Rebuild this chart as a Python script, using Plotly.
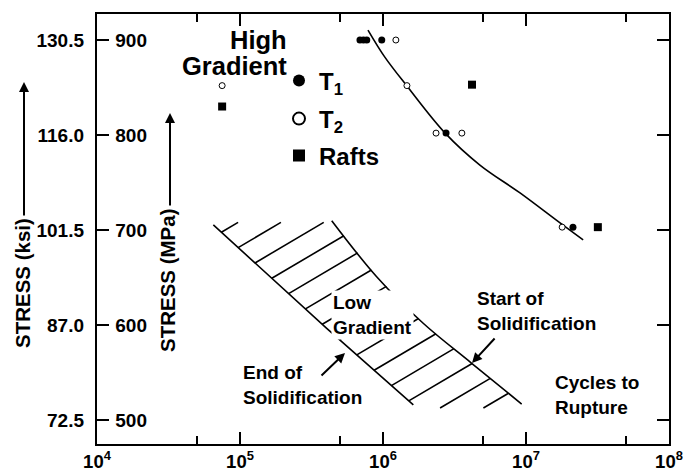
import numpy as np
import plotly.graph_objects as go

# ---------------- data ----------------
t1_cycles = [6.9e5, 7.3e5, 7.7e5, 9.8e5, 2.76e6, 2.13e7]
t1_stress = [900, 900, 900, 900, 802, 703]
t2_cycles = [7.5e4, 1.23e6, 1.47e6, 2.35e6, 3.56e6, 1.79e7]
t2_stress = [852, 900, 852, 802, 802, 703]
raft_cycles = [7.5e4, 4.19e6, 3.18e7]
raft_stress = [830, 853, 703]

hg_curve_cycles = [7.85e5, 1.03e6, 1.47e6, 2.72e6, 4.76e6, 9.08e6, 1.73e7, 2.51e7]
hg_curve_stress = [910.5, 882.0, 851.6, 802.0, 768.4, 739.0, 707.4, 689.5]

end_solid_cycles = [6.51e4, 4.04e5, 1.63e6]
end_solid_stress = [705.3, 596.5, 515.8]
start_solid_cycles = [4.38e5, 9.03e5, 1.91e6, 4.17e6, 9.33e6]
start_solid_stress = [709.8, 650.8, 601.8, 559.7, 516.8]

mpa_ticks = [500, 600, 700, 800, 900]
ksi_labels = ["72.5", "87.0", "101.5", "116.0", "130.5"]
x_major = [1e4, 1e5, 1e6, 1e7, 1e8]
x_labels = ["10<sup>4</sup>", "10<sup>5</sup>", "10<sup>6</sup>", "10<sup>7</sup>", "10<sup>8</sup>"]
x_minor = [5e4, 5e5, 5e6, 5e7]

# ---------------- layout geometry ----------------
W, H = 699, 472
ML, MR, MT, MB = 97, 30, 14, 28
PW, PH = W - ML - MR, H - MT - MB
Y_RANGE = [474.7, 927.4]
FONT = "Liberation Sans, Arial, Helvetica, sans-serif"


def px(x):
    return (x - ML) / PW


def py(y):
    return (H - MB - y) / PH


# ---------------- hatching of the low-gradient band ----------------
def pw(xq, xs, ys):
    xs = np.asarray(xs, float)
    ys = np.asarray(ys, float)
    o = np.argsort(xs)
    xs, ys = xs[o], ys[o]
    if xq < xs[0]:
        return ys[0] + (xq - xs[0]) * (ys[1] - ys[0]) / (xs[1] - xs[0])
    if xq > xs[-1]:
        return ys[-1] + (xq - xs[-1]) * (ys[-1] - ys[-2]) / (xs[-1] - xs[-2])
    return float(np.interp(xq, xs, ys))


uL, vL = np.log10(end_solid_cycles), np.array(end_solid_stress)
uR, vR = np.log10(start_solid_cycles), np.array(start_solid_stress)
HATCH_SLOPE = 88.8      # MPa per decade
HATCH_FIRST, HATCH_STEP, N_HATCH = 697.6, 16.14, 14
V_TOP, V_BOT = 708.0, 512.6

hx, hy = [], []
s_grid = np.linspace(0, 2, 4001)
for k in range(N_HATCH):
    v0 = HATCH_FIRST - HATCH_STEP * k
    u0 = pw(v0, vL, uL)
    f = v0 + HATCH_SLOPE * s_grid - np.array([pw(u0 + s, uR, vR) for s in s_grid])
    s1 = s_grid[int(np.argmax(f >= 0))]
    s0 = 0.0
    if v0 < V_BOT:
        s0 = (V_BOT - v0) / HATCH_SLOPE
    if v0 + HATCH_SLOPE * s1 > V_TOP:
        s1 = (V_TOP - v0) / HATCH_SLOPE
    hx += [10 ** (u0 + s0), 10 ** (u0 + s1), None]
    hy += [v0 + HATCH_SLOPE * s0, v0 + HATCH_SLOPE * s1, None]

fig = go.Figure()

line_style = dict(color="black", width=1.6)
fig.add_trace(go.Scatter(x=hx, y=hy, mode="lines", line=line_style, showlegend=False, hoverinfo="skip"))
fig.add_trace(go.Scatter(x=end_solid_cycles, y=end_solid_stress, mode="lines", line=line_style,
                         showlegend=False, hoverinfo="skip"))
fig.add_trace(go.Scatter(x=start_solid_cycles, y=start_solid_stress, mode="lines",
                         line=dict(color="black", width=1.6, shape="spline"), showlegend=False, hoverinfo="skip"))
fig.add_trace(go.Scatter(x=hg_curve_cycles, y=hg_curve_stress, mode="lines",
                         line=dict(color="black", width=1.6, shape="spline"), showlegend=False, hoverinfo="skip"))

fig.add_trace(go.Scatter(x=t1_cycles, y=t1_stress, mode="markers", name="T<sub>1</sub>", legend="legend",
                         marker=dict(symbol="circle", size=7, color="black")))
fig.add_trace(go.Scatter(x=t2_cycles, y=t2_stress, mode="markers", name="T<sub>2</sub>", legend="legend2",
                         marker=dict(symbol="circle", size=6, color="white", line=dict(color="black", width=1))))
fig.add_trace(go.Scatter(x=raft_cycles, y=raft_stress, mode="markers", name="Rafts", legend="legend3",
                         marker=dict(symbol="square", size=8, color="black")))

# invisible traces so the extra label axes are drawn
for ax_name in ("y2", "y3"):
    fig.add_trace(go.Scatter(x=[1e4], y=[700], yaxis=ax_name, mode="markers", marker=dict(opacity=0),
                             showlegend=False, hoverinfo="skip"))

tickfont = dict(family=FONT, size=19, color="black", weight="bold")
axis_common = dict(showline=True, linecolor="black", linewidth=2, mirror="ticks", ticks="inside",
                   tickcolor="black", tickwidth=1.5, showgrid=False, zeroline=False, automargin=False)

leg_common = dict(xanchor="left", yanchor="middle", bgcolor="rgba(0,0,0,0)",
                  font=dict(family=FONT, size=24, color="black", weight="bold"), itemsizing="constant")

fig.update_layout(
    width=W, height=H,
    margin=dict(l=ML, r=MR, t=MT, b=MB),
    paper_bgcolor="white", plot_bgcolor="white",
    font=dict(family=FONT, color="black"),
    xaxis=dict(type="log", range=[4, 8], tickvals=x_major, ticktext=x_labels, ticklen=12,
               tickfont=dict(family=FONT, size=18.5, color="black", weight="bold"), ticklabelstandoff=0,
               minor=dict(tickvals=x_minor, ticks="inside", ticklen=8, tickwidth=1.5, tickcolor="black",
                          showgrid=False),
               **axis_common),
    yaxis=dict(range=Y_RANGE, tickvals=mpa_ticks, ticklen=12, showticklabels=False, **axis_common),
    yaxis2=dict(range=Y_RANGE, overlaying="y", side="left", anchor="x", tickvals=mpa_ticks,
                ticktext=ksi_labels, showline=False, ticks="", showgrid=False, zeroline=False,
                ticklabelstandoff=12, automargin=False, tickfont=tickfont),
    yaxis3=dict(range=Y_RANGE, overlaying="y", side="left", anchor="free", position=px(147),
                tickvals=mpa_ticks, showline=False, ticks="", showgrid=False, zeroline=False,
                ticklabelstandoff=0, automargin=False, tickfont=tickfont),
    legend=dict(x=px(279), y=py(81), **leg_common),
    legend2=dict(x=px(279), y=py(119), **leg_common),
    legend3=dict(x=px(279), y=py(156), **leg_common),
    showlegend=True,
)

txt = dict(family=FONT, size=19, color="black", weight="bold")
big = dict(family=FONT, size=25.5, color="black", weight="bold")
ttl = dict(family=FONT, size=20.5, color="black", weight="bold")
annos = [
    dict(x=px(289), y=py(40), text="High", xanchor="right", yanchor="middle", font=big),
    dict(x=px(289), y=py(66), text="Gradient", xanchor="right", yanchor="middle", font=big),
    dict(x=px(331), y=py(314.5), text="Low<br>Gradient", xanchor="left", yanchor="middle", align="left",
         font=txt, bgcolor="white"),
    dict(x=px(475), y=py(311), text="Start of<br>Solidification", xanchor="left", yanchor="middle",
         align="left", font=txt),
    dict(x=px(241), y=py(384.5), text="End of<br>Solidification", xanchor="left", yanchor="middle",
         align="left", font=txt),
    dict(x=px(553), y=py(395), text="Cycles to<br>Rupture", xanchor="left", yanchor="middle",
         align="left", font=txt),
    dict(x=px(22), y=py(283), text="STRESS (ksi)", textangle=-90, xanchor="center", yanchor="middle",
         font=ttl),
    dict(x=px(167), y=py(280), text="STRESS (MPa)", textangle=-90, xanchor="center", yanchor="middle",
         font=ttl),
]
arrow = dict(text="", showarrow=True, arrowhead=2, arrowsize=1, arrowwidth=2, arrowcolor="black",
             standoff=0, startstandoff=0)
arrows = [
    dict(x=px(24), y=py(82), ax=0, ay=135),
    dict(x=px(170), y=py(113), ax=0, ay=94),
    dict(x=px(472), y=py(363), ax=24, ay=-26),
    dict(x=px(345), y=py(353), ax=-25, ay=24),
]
for a in annos:
    a.update(xref="paper", yref="paper", showarrow=False)
for a in arrows:
    a.update(xref="paper", yref="paper", **arrow)
fig.update_layout(annotations=annos + arrows)

fig.write_html("out.html")
